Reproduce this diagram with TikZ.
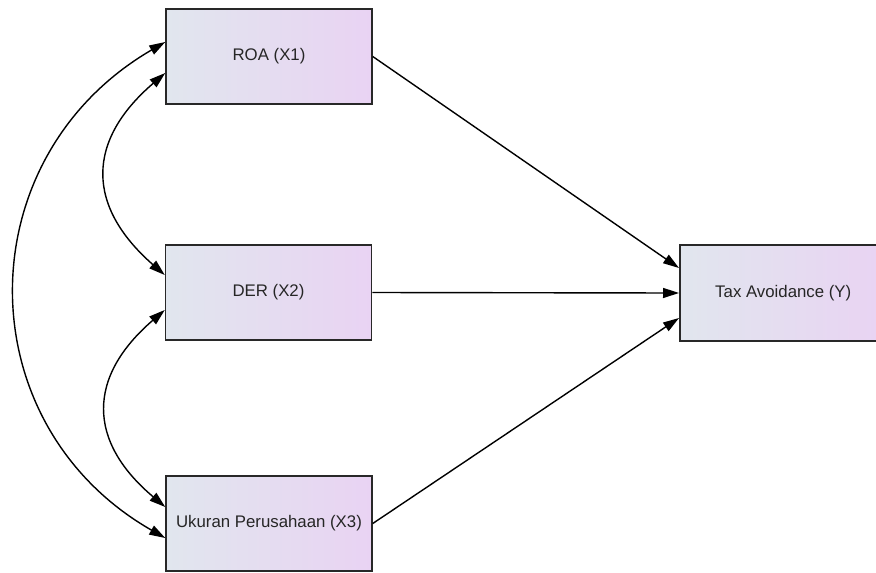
\documentclass[tikz,border=0pt]{standalone}
\usepackage{fontspec}
\setmainfont{Liberation Sans}
\usetikzlibrary{arrows.meta}
\definecolor{boxleft}{RGB}{225,230,238}
\definecolor{boxright}{RGB}{233,211,243}
\definecolor{boxline}{RGB}{40,40,40}
\tikzset{
  varbox/.style={draw=boxline, line width=1.5pt, left color=boxleft, right color=boxright,
    minimum width=206pt, minimum height=95pt, inner sep=0pt,
    font=\fontsize{16.8}{20}\selectfont, text=black!85},
  conn/.style={line width=1.4pt, -{Triangle[length=16pt,width=10pt]}},
  bconn/.style={line width=1.4pt, {Triangle[length=16pt,width=10pt]}-{Triangle[length=16pt,width=10pt]}}
}
\begin{document}
\begin{tikzpicture}[x=1pt,y=1pt]
\useasboundingbox (0,0) rectangle (876,-573);
\fill[white] (0,0) rectangle (876,-573);
\node[varbox] (roa) at (269,-56.5) {ROA (X1)};
\node[varbox] (der) at (268.5,-292.5) {DER (X2)};
\node[varbox] (uk) at (269,-523.5) {Ukuran Perusahaan (X3)};
\node[varbox, minimum width=207pt, minimum height=96pt, anchor=west] (tax) at (679,-293) {Tax Avoidance (Y)};
% direct paths
\draw[conn] (roa.east) -- ([yshift=25pt]tax.west);
\draw[conn] (der.east) -- (tax.west);
\draw[conn] (uk.east) -- ([yshift=-25pt]tax.west);
% covariances
\draw[bconn] ([yshift=14.5pt]roa.west) .. controls (-34,-158) and (-34,-424) .. ([yshift=-14.5pt]uk.west);
\draw[bconn] ([yshift=-16.5pt]roa.west) .. controls (86,-141) and (86,-206) .. ([yshift=17.5pt]der.west);
\draw[bconn] ([yshift=-17.5pt]der.west) .. controls (87,-377) and (87,-441) .. ([yshift=16.5pt]uk.west);
\end{tikzpicture}
\end{document}
